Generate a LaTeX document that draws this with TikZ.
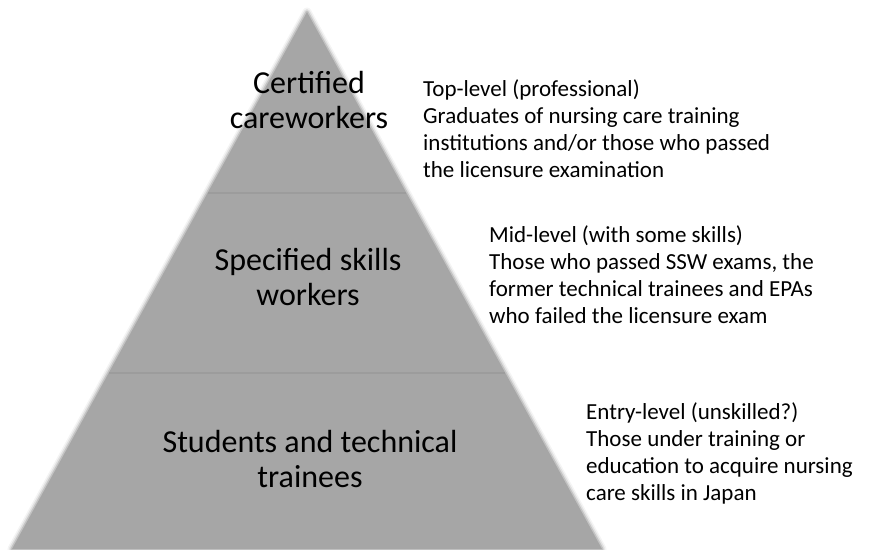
\documentclass[tikz,border=0pt]{standalone}
\usepackage{fontspec}
\setmainfont{Carlito}
\usetikzlibrary{calc}
\definecolor{pyr}{HTML}{A6A6A6}
\definecolor{divc}{HTML}{9C9C9C}
\begin{document}
\begin{tikzpicture}[x=1pt,y=-1pt,
  tier/.style={font=\fontsize{32}{35}\selectfont, align=center, anchor=base, inner sep=0pt, text=black},
  desc/.style={font=\fontsize{23}{27}\selectfont, align=left, anchor=base west, inner sep=0pt, text=black},
  divider/.style={draw=divc, line width=2.5pt}]
\useasboundingbox (0,0) rectangle (880,549);
\coordinate (A) at (307,12);
\coordinate (L) at (12,549);
\coordinate (R) at (602,549);
% soft edge of the pyramid
\foreach \w/\o in {9/0.12,6/0.25,3/0.5}{
  \draw[line width=\w pt, draw=pyr, opacity=\o, line join=round] (A)--(L)--(R)--cycle;}
\fill[pyr] (A)--(L)--(R)--cycle;
% tier dividers
\draw[divider] ($(A)!0.337!(L)$) coordinate (d1l) -- ($(A)!0.337!(R)$) coordinate (d1r);
\draw[divider] ($(A)!0.672!(L)$) coordinate (d2l) -- ($(A)!0.672!(R)$) coordinate (d2r);
% tier labels (anchor base = last line)
\node[tier] (t1) at (309,128) {Certified\\careworkers};
\node[tier] (t2) at (308,305) {Specified skills\\workers};
\node[tier] (t3) at (310,487) {Students and technical\\trainees};
% descriptions (anchor base = last line)
\node[desc] (e1) at (423,177) {Top-level (professional)\\Graduates of nursing care training\\institutions and/or those who passed\\the licensure examination};
\node[desc] (e2) at (489,323) {Mid-level (with some skills)\\Those who passed SSW exams, the\\former technical trainees and EPAs\\who failed the licensure exam};
\node[desc] (e3) at (586,500) {Entry-level (unskilled?)\\Those under training or\\education to acquire nursing\\care skills in Japan};
\end{tikzpicture}
\end{document}
